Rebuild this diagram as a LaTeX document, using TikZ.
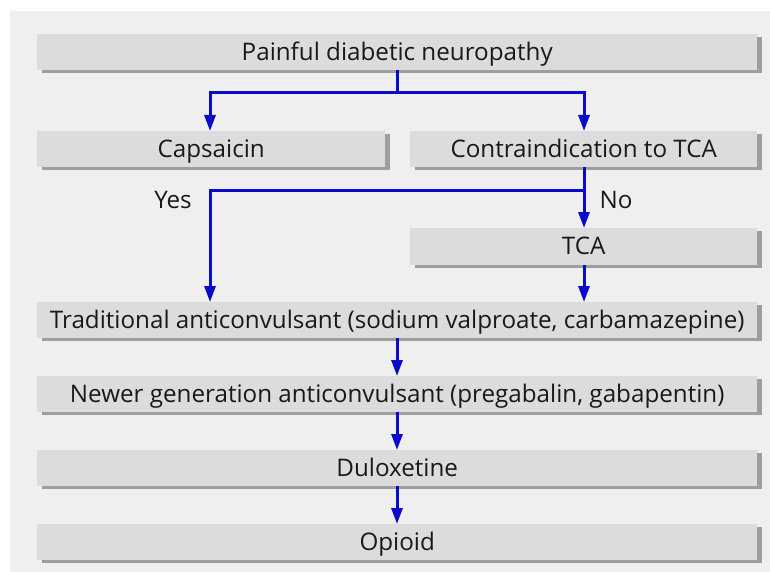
\documentclass[tikz,border=0pt]{standalone}
\usepackage{fontspec}
\setmainfont{Open Sans}
\usetikzlibrary{arrows.meta}
\definecolor{panel}{HTML}{EFEFEF}
\definecolor{boxfill}{HTML}{DCDCDC}
\definecolor{shadowc}{HTML}{9E9E9E}
\definecolor{arrowc}{HTML}{0A0ACC}
\tikzset{
  box/.style={fill=boxfill, draw=none, inner sep=0pt, anchor=north west},
  flow/.style={draw=arrowc, line width=3pt, -{Triangle[width=11pt,length=16pt]}},
  plain/.style={draw=arrowc, line width=3pt},
  lbl/.style={font=\fontsize{24.2}{27}\selectfont, text=black!90}
}
\newcommand{\shadowbox}[6]{% name, x1, y1, x2, y2, text
  \fill[shadowc] (#2+5,#3+3) rectangle (#4+5,#5+3);
  \node[box, minimum width=#4-#2, minimum height=#5-#3] (#1) at (#2,#3) {};
  \node[lbl, anchor=base] at ([yshift=-8pt]#1.center) {#6};
}
\begin{document}
\begin{tikzpicture}[x=1pt,y=-1pt]
\useasboundingbox (0,0) rectangle (770,572);
\fill[white] (0,0) rectangle (770,572);
\fill[panel] (10,11) rectangle (770,572);
\shadowbox{pdn}{37}{34}{757}{70}{Painful diabetic neuropathy}
\shadowbox{cap}{37}{131}{385}{167}{Capsaicin}
\shadowbox{ctca}{410}{131}{757}{167}{Contraindication to TCA}
\shadowbox{tca}{410}{228}{757}{265}{TCA}
\shadowbox{trad}{37}{302}{757}{338}{Traditional anticonvulsant (sodium valproate, carbamazepine)}
\shadowbox{newer}{37}{376}{757}{412}{Newer generation anticonvulsant (pregabalin, gabapentin)}
\shadowbox{dulo}{37}{450}{757}{486}{Duloxetine}
\shadowbox{opi}{37}{524}{757}{560}{Opioid}
\coordinate (j1) at (397,93);
\coordinate (j2) at (584,190);
\draw[plain] (pdn.south -| j1) -- (j1);
\draw[flow] (j1) -| (cap.north -| 210,0);
\draw[flow] (j1) -| (ctca.north -| j2);
\draw[flow] (ctca.south -| j2) -- (tca.north -| j2);
\draw[flow] (j2) -| (trad.north -| 210,0);
\draw[flow] (tca.south -| j2) -- (trad.north -| j2);
\draw[flow] (trad.south -| j1) -- (newer.north -| j1);
\draw[flow] (newer.south -| j1) -- (dulo.north -| j1);
\draw[flow] (dulo.south -| j1) -- (opi.north -| j1);
\node[lbl, anchor=base] (yes) at (173,208) {Yes};
\node[lbl, anchor=base] (no) at (616,208) {No};
\end{tikzpicture}
\end{document}
